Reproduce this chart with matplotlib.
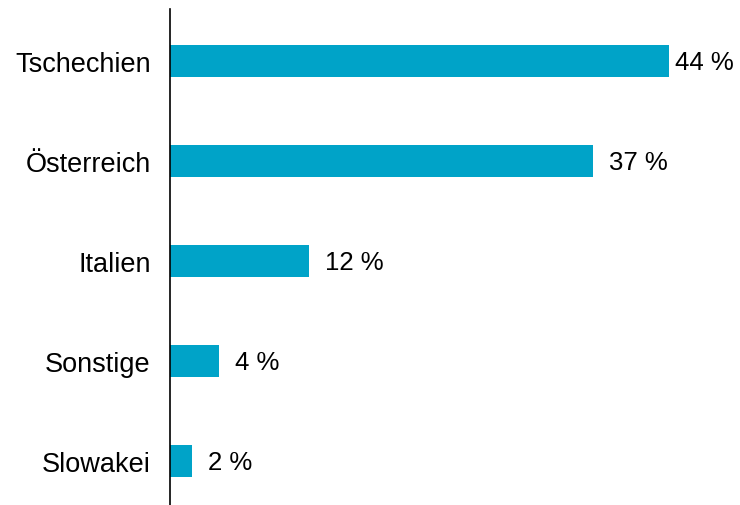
import matplotlib
matplotlib.use("Agg")
import matplotlib.pyplot as plt

# Daten (von oben nach unten)
laender = ["Tschechien", "Österreich", "Italien", "Sonstige", "Slowakei"]
anteile = [44.0, 37.3, 12.3, 4.3, 1.9]
beschriftung = ["44 %", "37 %", "12 %", "4 %", "2 %"]

plt.rcParams["font.family"] = ["Liberation Sans", "DejaVu Sans"]

fig = plt.figure(figsize=(7.4, 5.06), dpi=100)
ax = fig.add_axes([170 / 740, 0, 567 / 740, 1 - 10 / 506])

pos = list(range(len(laender)))[::-1]
ax.barh(pos, anteile, height=0.32, color="#00A3C8")

# Datenbeschriftungen
for i, (p, v, t) in enumerate(zip(pos, anteile, beschriftung)):
    off = 4.3 if i == 0 else 11.5
    ax.annotate(t, (v, p - 0.01), xytext=(off, 0), textcoords="offset points",
                ha="left", va="center", fontsize=18.5, color="black")

ax.set_xlim(0, 50)
ax.set_ylim(-0.44, 4.515)
ax.set_yticks(pos)
ax.set_yticklabels(laender, fontsize=19.5)
ax.tick_params(axis="y", length=0, pad=14)
ax.set_xticks([])

for s in ["top", "right", "bottom"]:
    ax.spines[s].set_visible(False)
ax.spines["left"].set_linewidth(1.2)

fig.savefig("out.png", dpi=100)
